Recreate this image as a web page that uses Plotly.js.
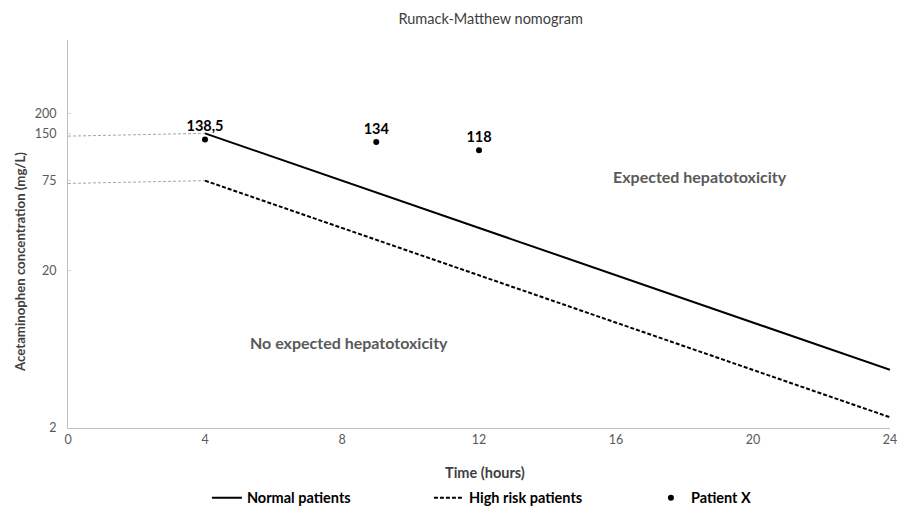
<!DOCTYPE html>
<html>
<head>
<meta charset="utf-8">
<script src="https://cdn.plot.ly/plotly-3.0.1.min.js"></script>
<style>html,body{margin:0;padding:0;background:#fff;}#chart{width:897px;height:508px;}</style>
</head>
<body>
<div id="chart"></div>
<script>
// Data
const normalTime = [4, 24];
const normalConc = [150, 4.69];
const highRiskTime = [4, 24];
const highRiskConc = [75, 2.34];
const guideTime = [0, 4];
const guideNormal = [144, 150];
const guideHighRisk = [72, 75];
const patientTime = [4, 9, 12];
const patientConc = [137, 132, 117];
const patientLabels = ["138,5", "134", "118"];
const xTicks = [0, 4, 8, 12, 16, 20, 24];
const yTicks = [2, 20, 75, 150, 200];

const FONT = "Lato, 'Open Sans', sans-serif";
const traces = [
  {x: guideTime, y: guideNormal, mode: 'lines', line: {color: '#a6a6a6', width: 1, dash: '3px,2px'}, showlegend: false, hoverinfo: 'skip'},
  {x: guideTime, y: guideHighRisk, mode: 'lines', line: {color: '#a6a6a6', width: 1, dash: '3px,2px'}, showlegend: false, hoverinfo: 'skip'},
  {x: normalTime, y: normalConc, mode: 'lines', name: 'Normal patients', line: {color: '#000', width: 2}},
  {x: highRiskTime, y: highRiskConc, mode: 'lines', name: 'High risk patients', line: {color: '#000', width: 2, dash: '4px,2px'}},
  {x: patientTime, y: patientConc, mode: 'markers+text', name: 'Patient X', marker: {color: '#000', size: 6},
   text: patientLabels, textposition: 'top center', textfont: {family: FONT, size: 14.5, color: '#000', weight: 'bold'}}
];

const layout = {
  width: 897, height: 508,
  margin: {l: 68, r: 7, t: 40, b: 80},
  paper_bgcolor: '#fff', plot_bgcolor: '#fff',
  font: {family: FONT, color: '#595959'},
  title: {text: 'Rumack-Matthew nomogram', x: 0.547, xanchor: 'center', y: 0.962, yanchor: 'middle', font: {family: FONT, size: 14.5, color: '#404040'}},
  xaxis: {
    range: [0, 24.0001], tickvals: xTicks, ticktext: xTicks.map(String), showgrid: false, zeroline: false,
    showline: true, linecolor: '#bfbfbf', linewidth: 1, ticks: '', tickfont: {size: 12.5, color: '#595959'},
    ticklabeloverflow: 'allow', automargin: false
  },
  yaxis: {
    type: 'log', range: [Math.log10(2), 2.77], tickvals: yTicks, ticktext: yTicks.map(String),
    showgrid: false, zeroline: false, showline: true, linecolor: '#bfbfbf', linewidth: 1,
    ticks: 'inside', ticklen: 3, tickcolor: '#d9d9d9', tickfont: {size: 12.5, color: '#595959'},
    ticklabelstandoff: 8, automargin: false
  },
  legend: {orientation: 'h', x: 0.169, xanchor: 'left', xref: 'paper', y: 0.02, yanchor: 'middle', yref: 'container',
    font: {family: FONT, size: 14.5, color: '#000', weight: 'bold'}, entrywidth: 177, entrywidthmode: 'pixels'},
  annotations: [
    {x: 18.45, y: Math.log10(80), xref: 'x', yref: 'y', text: 'Expected hepatotoxicity', showarrow: false,
     font: {family: FONT, size: 16, color: '#595959', weight: 'bold'}},
    {x: 8.2, y: Math.log10(7.0), xref: 'x', yref: 'y', text: 'No expected hepatotoxicity', showarrow: false,
     font: {family: FONT, size: 16, color: '#595959', weight: 'bold'}},
    {x: 0.507, y: -0.115, xref: 'paper', yref: 'paper', text: 'Time (hours)', showarrow: false,
     xanchor: 'center', yanchor: 'middle', font: {family: FONT, size: 14.5, color: '#404040', weight: 'bold'}},
    {x: 0, y: 0.428, xref: 'paper', yref: 'paper', xanchor: 'center', yanchor: 'middle',
     text: 'Acetaminophen concentration (mg/L)', textangle: -90, showarrow: false,
     font: {family: FONT, size: 13.2, color: '#404040', weight: 'bold'}}
  ]
};
// place y-title annotation at absolute x=20px
layout.annotations[3].x = (20 - 68) / 822;

Plotly.newPlot('chart', traces, layout, {displayModeBar: false, staticPlot: true});
</script>
</body>
</html>
